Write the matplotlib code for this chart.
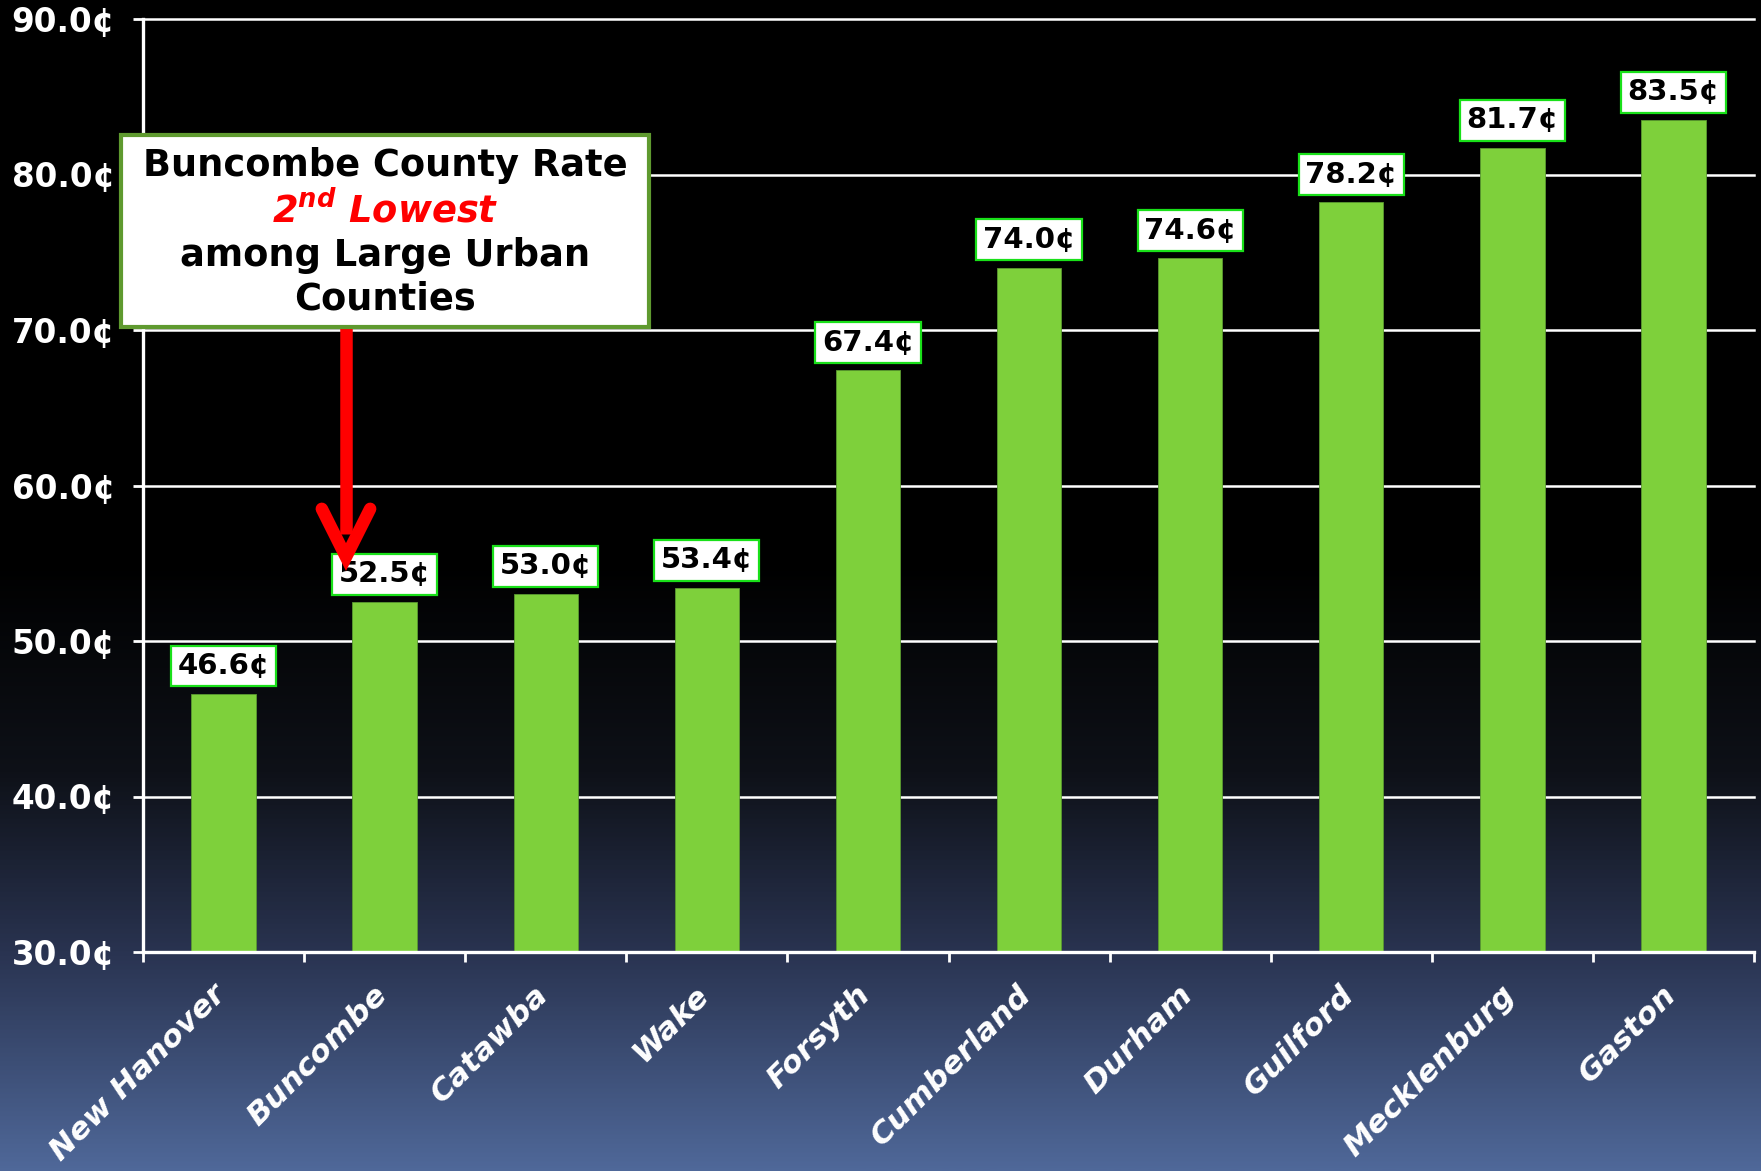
import matplotlib
matplotlib.use("Agg")
import matplotlib.pyplot as plt
import matplotlib.transforms as mtransforms
import numpy as np
from matplotlib.colors import LinearSegmentedColormap
from matplotlib.patches import Rectangle

counties = ["New Hanover", "Buncombe", "Catawba", "Wake", "Forsyth",
            "Cumberland", "Durham", "Guilford", "Mecklenburg", "Gaston"]
rates = [46.6, 52.5, 53.0, 53.4, 67.4, 74.0, 74.6, 78.2, 81.7, 83.5]
y_ticks = [30, 40, 50, 60, 70, 80, 90]
callout_lines = ["Buncombe County Rate", "2$^{nd}$ Lowest", "among Large Urban", "Counties"]
highlight = "Buncombe"

plt.rcParams['font.family'] = ['DejaVu Sans']
plt.rcParams['mathtext.fontset'] = 'custom'
plt.rcParams['mathtext.it'] = 'DejaVu Sans:bold:italic'
plt.rcParams['mathtext.rm'] = 'DejaVu Sans:bold:italic'

W, H = 1761, 1171
fig = plt.figure(figsize=(W / 100, H / 100), dpi=100)

# background gradient
bg = fig.add_axes([0, 0, 1, 1], zorder=-10)
cmap = LinearSegmentedColormap.from_list("bg", [
    (0.0, "#000000"), (0.48, "#000000"), (0.66, "#0e1118"),
    (0.813, "#293350"), (1.0, "#4f6899")])
grad = np.linspace(0, 1, 512).reshape(-1, 1)
bg.imshow(grad, aspect="auto", cmap=cmap, extent=[0, 1, 0, 1], origin="upper")
bg.set_axis_off()

ax = fig.add_axes([143 / W, 1 - 952 / H, (1754 - 143) / W, (952 - 19) / H])
ax.set_facecolor("none")

x = np.arange(len(counties))
ax.bar(x, [r - 30 for r in rates], bottom=30, width=0.4, color="#7ED03B",
       edgecolor="#5a9a30", linewidth=0.6, zorder=3)

ax.set_xlim(-0.5, len(counties) - 0.5)
ax.set_ylim(30, 90)
ax.set_yticks(y_ticks)
ax.set_yticklabels([f"{v:.1f}¢" for v in y_ticks], fontsize=23.5, fontweight="bold", color="white")
ax.tick_params(axis="y", colors="white", length=7, width=2, pad=13, direction="out")

ax.set_xticks(x)
ax.set_xticklabels(counties, rotation=45, ha="right", va="top", fontsize=22.5,
                   fontweight="bold", fontstyle="italic", color="white")
ax.tick_params(axis="x", which="major", length=0, pad=20)
shift = mtransforms.ScaledTranslation(8 / 100, 0, fig.dpi_scale_trans)
for lbl in ax.get_xticklabels():
    lbl.set_transform(lbl.get_transform() + shift)
ax.set_xticks(np.arange(-0.5, len(counties)), minor=True)
ax.tick_params(axis="x", which="minor", colors="white", length=7, width=2, direction="out")

ax.grid(axis="y", color="white", linewidth=1.8, zorder=1)
ax.set_axisbelow(True)
for gl in ax.get_ygridlines():
    gl.set_clip_on(False)

for s in ["top", "right"]:
    ax.spines[s].set_visible(False)
for s in ["left", "bottom"]:
    ax.spines[s].set_color("white")
    ax.spines[s].set_linewidth(2.4)
    ax.spines[s].set_zorder(4)

# value labels
for xi, r in zip(x, rates):
    ax.annotate(f"{r:.1f}¢", (xi, r), xytext=(0, 10), textcoords="offset points",
                ha="center", va="bottom", fontsize=21, fontweight="bold", color="black",
                zorder=6,
                bbox=dict(boxstyle="square,pad=0.22", facecolor="white",
                          edgecolor="#19e019", linewidth=1.6))

# callout box
fig.patches.append(Rectangle((121 / W, 1 - 327 / H), 528 / W, 192 / H,
                             transform=fig.transFigure, facecolor="white",
                             edgecolor="#5f9a2f", linewidth=3, zorder=8))
line_y = [165, 210, 255, 299]
for txt, yy in zip(callout_lines, line_y):
    if "Lowest" in txt:
        fig.text(385 / W, 1 - yy / H, txt, ha="center", va="center", fontsize=26.5,
                 fontweight="bold", fontstyle="italic", color="#ff0000", zorder=9)
    else:
        fig.text(385 / W, 1 - yy / H, txt, ha="center", va="center", fontsize=26.5,
                 fontweight="bold", color="black", zorder=9)

# red arrow pointing to the highlighted bar
hi = counties.index(highlight)
hv = rates[hi]
ax_x = hi - 0.24
tip_y = hv + 2.9
ax.plot([ax_x, ax_x], [tip_y + 1.5, 70.2], color="#ff0000", linewidth=9,
        solid_capstyle="butt", zorder=7, clip_on=False)
ax.plot([ax_x - 0.15, ax_x, ax_x + 0.15], [tip_y + 3.1, tip_y, tip_y + 3.1],
        color="#ff0000", linewidth=9, solid_capstyle="round",
        solid_joinstyle="miter", zorder=7, clip_on=False)

fig.savefig("out.png", dpi=100)
